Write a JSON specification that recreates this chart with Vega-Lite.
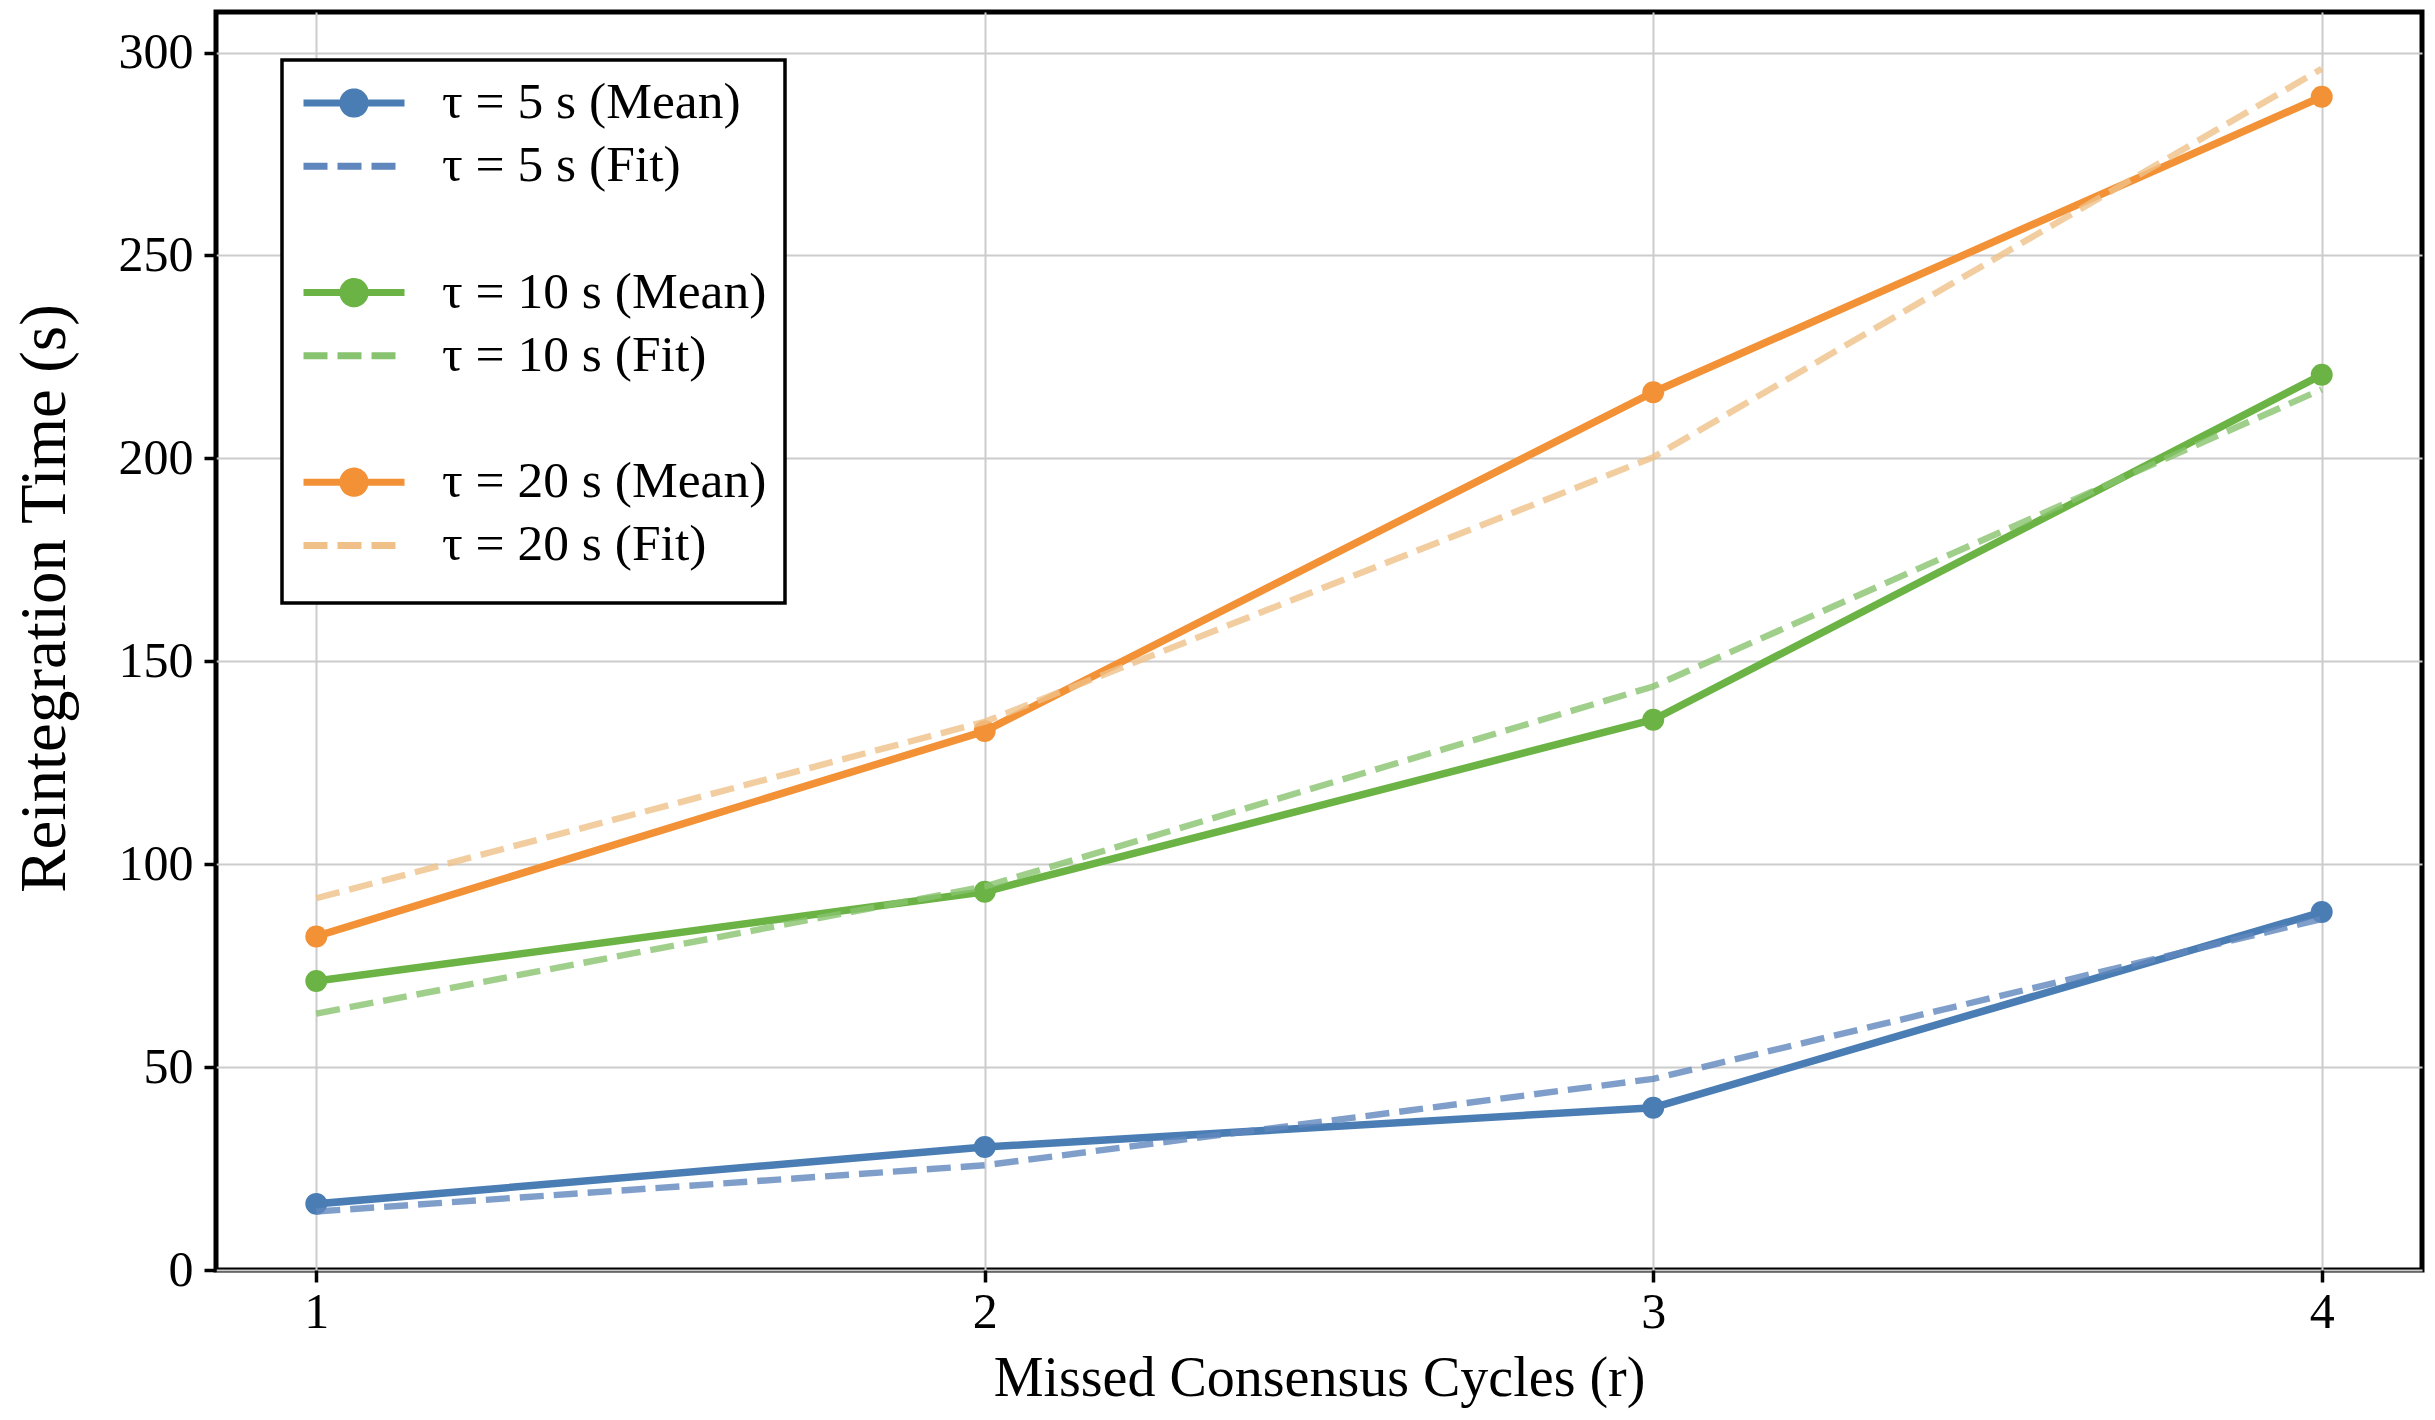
{
  "$schema": "https://vega.github.io/schema/vega-lite/v6.json",
  "width": 2206,
  "height": 1258,
  "autosize": {"type": "none"},
  "padding": {"left": 216, "top": 12, "right": 13, "bottom": 150},
  "background": "white",
  "config": {
    "view": {"stroke": "black", "strokeWidth": 5},
    "font": "Liberation Serif",
    "axis": {
      "domain": false,
      "grid": true,
      "gridColor": "#cccccc",
      "gridWidth": 2,
      "tickColor": "black",
      "tickSize": 12,
      "tickWidth": 3.5,
      "labelFont": "Liberation Serif",
      "labelFontSize": 50,
      "labelColor": "black",
      "labelFlush": false,
      "labelOverlap": false,
      "titleFont": "Liberation Serif",
      "titleFontSize": 56,
      "titleFontWeight": "normal",
      "titleColor": "black"
    }
  },
  "data": {
    "values": [
      {"r": 1, "value": 16.3, "series": "τ = 5 s (Mean)", "kind": "Mean"},
      {"r": 2, "value": 30.3, "series": "τ = 5 s (Mean)", "kind": "Mean"},
      {"r": 3, "value": 40.0, "series": "τ = 5 s (Mean)", "kind": "Mean"},
      {"r": 4, "value": 88.2, "series": "τ = 5 s (Mean)", "kind": "Mean"},
      {"r": 1, "value": 14.4, "series": "τ = 5 s (Fit)", "kind": "Fit"},
      {"r": 2, "value": 25.8, "series": "τ = 5 s (Fit)", "kind": "Fit"},
      {"r": 3, "value": 47.1, "series": "τ = 5 s (Fit)", "kind": "Fit"},
      {"r": 4, "value": 86.5, "series": "τ = 5 s (Fit)", "kind": "Fit"},
      {"r": 1, "value": 71.2, "series": "τ = 10 s (Mean)", "kind": "Mean"},
      {"r": 2, "value": 93.2, "series": "τ = 10 s (Mean)", "kind": "Mean"},
      {"r": 3, "value": 135.6, "series": "τ = 10 s (Mean)", "kind": "Mean"},
      {"r": 4, "value": 220.6, "series": "τ = 10 s (Mean)", "kind": "Mean"},
      {"r": 1, "value": 63.2, "series": "τ = 10 s (Fit)", "kind": "Fit"},
      {"r": 2, "value": 94.5, "series": "τ = 10 s (Fit)", "kind": "Fit"},
      {"r": 3, "value": 143.8, "series": "τ = 10 s (Fit)", "kind": "Fit"},
      {"r": 4, "value": 217.0, "series": "τ = 10 s (Fit)", "kind": "Fit"},
      {"r": 1, "value": 82.2, "series": "τ = 20 s (Mean)", "kind": "Mean"},
      {"r": 2, "value": 132.8, "series": "τ = 20 s (Mean)", "kind": "Mean"},
      {"r": 3, "value": 216.3, "series": "τ = 20 s (Mean)", "kind": "Mean"},
      {"r": 4, "value": 289.1, "series": "τ = 20 s (Mean)", "kind": "Mean"},
      {"r": 1, "value": 91.6, "series": "τ = 20 s (Fit)", "kind": "Fit"},
      {"r": 2, "value": 135.1, "series": "τ = 20 s (Fit)", "kind": "Fit"},
      {"r": 3, "value": 200.3, "series": "τ = 20 s (Fit)", "kind": "Fit"},
      {"r": 4, "value": 296.0, "series": "τ = 20 s (Fit)", "kind": "Fit"}
    ]
  },
  "encoding": {
    "x": {
      "field": "r",
      "type": "quantitative",
      "scale": {"domain": [0.85, 4.15], "nice": false, "zero": false},
      "axis": {
        "values": [1, 2, 3, 4],
        "format": "d",
        "labelPadding": 5,
        "title": "Missed Consensus Cycles (r)",
        "titlePadding": 14
      }
    },
    "y": {
      "field": "value",
      "type": "quantitative",
      "scale": {"domain": [0, 310], "nice": false, "zero": true},
      "axis": {
        "values": [0, 50, 100, 150, 200, 250, 300],
        "format": "d",
        "labelPadding": 11,
        "title": "Reintegration Time (s)",
        "titleFontSize": 65,
        "titlePadding": 40,
        "titleY": 586
      }
    },
    "color": {
      "field": "series",
      "type": "nominal",
      "scale": {
        "domain": ["τ = 5 s (Mean)", "τ = 5 s (Fit)", " ", "τ = 10 s (Mean)", "τ = 10 s (Fit)", "  ", "τ = 20 s (Mean)", "τ = 20 s (Fit)"],
        "range": ["#4a7db4", "#5f87bd", "transparent", "#6bb344", "#88c36f", "transparent", "#f29135", "#efc188"]
      },
      "legend": {
        "orient": "none",
        "legendX": 66,
        "legendY": 48,
        "title": " ",
        "titleOrient": "bottom",
        "titleFontSize": 10,
        "titlePadding": 4,
        "labelFont": "Liberation Serif",
        "labelFontSize": 51.5,
        "labelColor": "black",
        "labelLimit": 1000,
        "labelOffset": 34,
        "symbolSize": 10201,
        "symbolStrokeWidth": 7,
        "clipHeight": 50,
        "rowPadding": 11.2,
        "padding": 18,
        "strokeColor": "black",
        "fillColor": "white",
        "encode": {
          "legend": {
            "update": {
              "stroke": {"value": "black"},
              "strokeWidth": {"value": 3.5}
            }
          },
          "symbols": {
            "update": {
              "shape": {"signal": "indexof(datum.value, 'Fit') >= 0 ? 'M-1,0H1' : 'M-1,0H1M-0.22,0A0.22,0.22 0 1 1 0.22,0A0.22,0.22 0 1 1 -0.22,0Z'"},
              "strokeDash": {"signal": "indexof(datum.value, 'Fit') >= 0 ? [24, 10] : [1, 0]"}
            }
          }
        }
      }
    }
  },
  "layer": [
    {
      "transform": [{"filter": "datum.kind === 'Mean'"}],
      "mark": {"type": "line", "strokeWidth": 7.5, "strokeJoin": "round", "strokeCap": "square"}
    },
    {
      "transform": [{"filter": "datum.kind === 'Mean'"}],
      "mark": {"type": "point", "filled": true, "size": 480, "opacity": 1, "strokeWidth": 0}
    },
    {
      "transform": [{"filter": "datum.kind === 'Fit'"}],
      "mark": {"type": "line", "strokeWidth": 6.4, "strokeDash": [24, 10], "opacity": 0.8, "strokeJoin": "round"}
    }
  ]
}
